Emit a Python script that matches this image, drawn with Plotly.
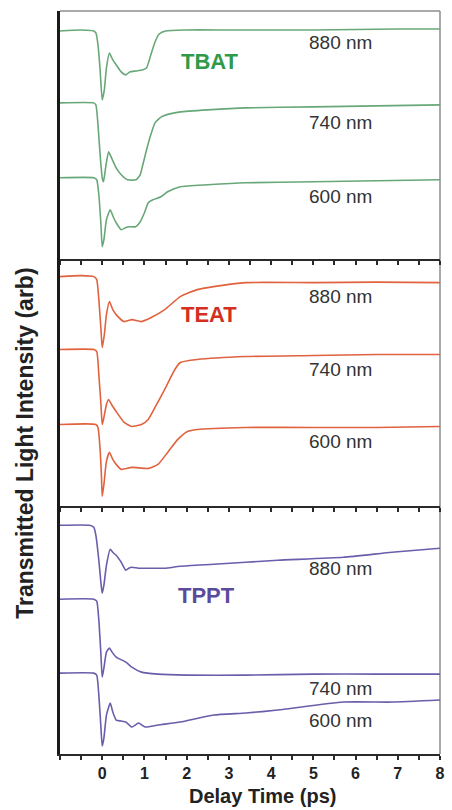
import plotly.graph_objects as go
from plotly.subplots import make_subplots

# Delay times (ps) and transmitted intensity (arb, offset per wavelength) for each sample
tbat_880_t = [-1.0, -0.5, -0.2, -0.15, -0.1, -0.05, 0.0, 0.05, 0.1, 0.17, 0.25, 0.35, 0.45, 0.56, 0.65,
              0.8, 0.95, 1.05, 1.15, 1.25, 1.35, 1.5, 2.0, 3, 4, 5, 6, 7, 8]
tbat_880 = [228, 229, 228, 226, 214, 189, 159, 169, 191, 206, 199, 193, 187, 184, 187,
            188, 189, 191, 204, 217, 225, 228, 229, 229, 229, 229, 229.5, 230, 230]

tbat_740_t = [-1.0, -0.2, -0.15, -0.1, -0.05, 0.0, 0.03, 0.08, 0.15, 0.22, 0.33, 0.45, 0.6, 0.8, 0.9,
              0.95, 1.05, 1.15, 1.25, 1.4, 1.6, 1.85, 2.5, 3.4, 5, 6.5, 8]
tbat_740 = [156, 156, 154, 134, 104, 81, 77, 91, 107, 101, 91, 84, 79, 79, 84,
            92, 109, 124, 136, 142, 145, 147, 149, 151, 152, 153, 154]

tbat_600_t = [-1.0, -0.2, -0.13, -0.08, -0.03, 0.0, 0.04, 0.1, 0.19, 0.27, 0.33, 0.45, 0.55, 0.63, 0.79,
              0.9, 1.0, 1.09, 1.2, 1.39, 1.55, 1.85, 2.5, 3.4, 5, 6.5, 8]
tbat_600 = [81, 81, 79, 64, 34, 12, 19, 39, 49, 41, 36, 29, 31, 32, 32,
            37, 46, 56, 59, 62, 67, 72, 74, 76, 77, 78, 79]

teat_880_t = [-1.0, -0.5, -0.2, -0.13, -0.08, -0.03, 0.0, 0.05, 0.1, 0.17, 0.25, 0.35, 0.52, 0.7, 0.93,
              1.16, 1.48, 1.85, 2.25, 2.64, 3.4, 5, 6.5, 8]
teat_880 = [230, 231, 230, 227, 207, 177, 159, 172, 192, 205, 197, 191, 185, 187, 185,
            189, 197, 210, 217, 220, 224, 224, 224.5, 224]

teat_740_t = [-1.0, -0.2, -0.13, -0.08, -0.03, 0.0, 0.04, 0.1, 0.15, 0.22, 0.33, 0.52, 0.7, 0.93, 1.09,
              1.25, 1.48, 1.72, 1.85, 2.25, 3.4, 5, 6.5, 8]
teat_740 = [157, 157, 155, 132, 102, 82, 89, 102, 107, 102, 95, 84, 80, 82, 87,
            99, 117, 137, 144, 147, 150, 151, 152, 152]

teat_600_t = [-1.0, -0.15, -0.1, -0.05, -0.02, 0.0, 0.04, 0.1, 0.17, 0.25, 0.33, 0.45, 0.7, 1.09, 1.32,
              1.55, 1.79, 2.02, 2.25, 3.4, 5, 6.5, 8]
teat_600 = [82, 82, 79, 57, 32, 10, 22, 45, 54, 47, 42, 37, 39, 38, 42,
            54, 67, 75, 77, 79, 79, 79, 80]

tppt_880_t = [-1.0, -0.3, -0.2, -0.15, -0.08, -0.03, 0.0, 0.04, 0.1, 0.19, 0.25, 0.33, 0.45, 0.56, 0.63,
              0.7, 0.86, 1.09, 1.48, 1.85, 2.64, 3.4, 4.16, 5.71, 6.86, 8]
tppt_880 = [229, 229, 227, 219, 194, 171, 161, 169, 189, 205, 202, 199, 192, 184, 186,
            187, 186, 186, 186, 188, 190, 192, 194, 197, 202, 206]

tppt_740_t = [-1.0, -0.2, -0.13, -0.08, -0.03, 0.0, 0.04, 0.1, 0.17, 0.25, 0.33, 0.56, 0.7, 0.93, 1.32,
              2.0, 3.4, 5, 6.5, 8]
tppt_740 = [155, 155, 153, 134, 99, 77, 86, 102, 106, 101, 97, 92, 87, 82, 80,
            79, 79, 80, 80, 80]

tppt_600_t = [-1.0, -0.2, -0.13, -0.08, -0.03, 0.0, 0.04, 0.1, 0.19, 0.25, 0.33, 0.45, 0.56, 0.7, 0.86,
              1.02, 1.32, 1.85, 2.64, 3.4, 4.16, 5.71, 6.86, 8]
tppt_600 = [81, 81, 79, 59, 26, 8, 16, 39, 51, 42, 34, 33, 32, 27, 31,
            27, 29, 32, 39, 41, 44, 52, 52, 54]

samples = ["TBAT", "TEAT", "TPPT"]
wavelengths = ["880 nm", "740 nm", "600 nm"]
line_colors = ["#68a878", "#e0623f", "#6c5cab"]
label_colors = ["#2f9a4a", "#d42f20", "#5b4b9c"]

panel_series = [
    [(tbat_880_t, tbat_880), (tbat_740_t, tbat_740), (tbat_600_t, tbat_600)],
    [(teat_880_t, teat_880), (teat_740_t, teat_740), (teat_600_t, teat_600)],
    [(tppt_880_t, tppt_880), (tppt_740_t, tppt_740), (tppt_600_t, tppt_600)],
]

# label anchor positions (delay, intensity) in each panel
sample_label_pos = [(2.55, 197), (2.53, 192), (2.48, 159)]
wl_label_pos = [
    [(5.64, 216), (5.64, 136), (5.64, 62)],
    [(5.64, 210), (5.64, 137), (5.64, 65)],
    [(5.64, 186), (5.64, 66), (5.64, 34)],
]

x_ticks = [0, 1, 2, 3, 4, 5, 6, 7, 8]

FONT = "Liberation Sans, Arial, sans-serif"

fig = make_subplots(rows=3, cols=1, shared_xaxes=True, vertical_spacing=0)

for row in range(3):
    for (t, v) in panel_series[row]:
        fig.add_trace(
            go.Scatter(x=t, y=v, mode="lines",
                       line=dict(color=line_colors[row], width=1.6, shape="spline", smoothing=0.5),
                       showlegend=False, hoverinfo="skip"),
            row=row + 1, col=1,
        )
    r = row + 1
    xs = "x" if r == 1 else f"x{r}"
    ys = "y" if r == 1 else f"y{r}"
    sx, sy = sample_label_pos[row]
    fig.add_annotation(x=sx, y=sy, xref=xs, yref=ys, text=f"<b>{samples[row]}</b>",
                       xanchor="center", yanchor="middle", showarrow=False,
                       font=dict(family=FONT, size=22, color=label_colors[row]))
    for k, (wx, wy) in enumerate(wl_label_pos[row]):
        fig.add_annotation(x=wx, y=wy, xref=xs, yref=ys, text=wavelengths[k],
                           xanchor="center", yanchor="middle", showarrow=False,
                           font=dict(family=FONT, size=19, color="#333333"))

for r in range(1, 4):
    fig.update_xaxes(
        row=r, col=1, range=[-1, 8], showgrid=False, zeroline=False,
        showline=True, linecolor="#2a2a2a", linewidth=2,
        ticks="outside", ticklen=4, tickwidth=1.5, tickcolor="#2a2a2a",
        tickvals=x_ticks, ticktext=[str(v) for v in x_ticks],
        showticklabels=(r == 3),
        tickfont=dict(family=FONT, size=16, color="#222222", weight="bold"),
        minor=dict(dtick=0.5, tick0=0, ticks="outside", ticklen=4, tickwidth=1.5, tickcolor="#2a2a2a"),
    )
    fig.update_yaxes(
        row=r, col=1, range=[0, 248], showgrid=False, zeroline=False,
        showticklabels=False, ticks="",
        showline=True, linecolor="#1a1a1a", linewidth=2.5,
    )

# light frame along the top and right of the plot area
fig.add_shape(type="line", xref="paper", yref="paper", x0=0, x1=1, y0=1, y1=1,
              line=dict(color="#8c8c8c", width=1.5), layer="below")
fig.add_shape(type="line", xref="paper", yref="paper", x0=1, x1=1, y0=0, y1=1,
              line=dict(color="#8c8c8c", width=1.5), layer="below")

fig.add_annotation(x=0.532, y=-0.057, xref="paper", yref="paper", text="<b>Delay Time (ps)</b>",
                   xanchor="center", yanchor="middle", showarrow=False,
                   font=dict(family=FONT, size=20, color="#222222"))
fig.add_annotation(x=-0.091, y=0.418, xref="paper", yref="paper",
                   text="<b>Transmitted Light Intensity (arb)</b>", textangle=-90,
                   xanchor="center", yanchor="middle", showarrow=False,
                   font=dict(family=FONT, size=23, color="#222222"))

fig.update_layout(
    width=452, height=810,
    margin=dict(l=60, r=7, t=11, b=56),
    paper_bgcolor="white", plot_bgcolor="white",
    font=dict(family=FONT),
)

fig.write_html("out.html")
